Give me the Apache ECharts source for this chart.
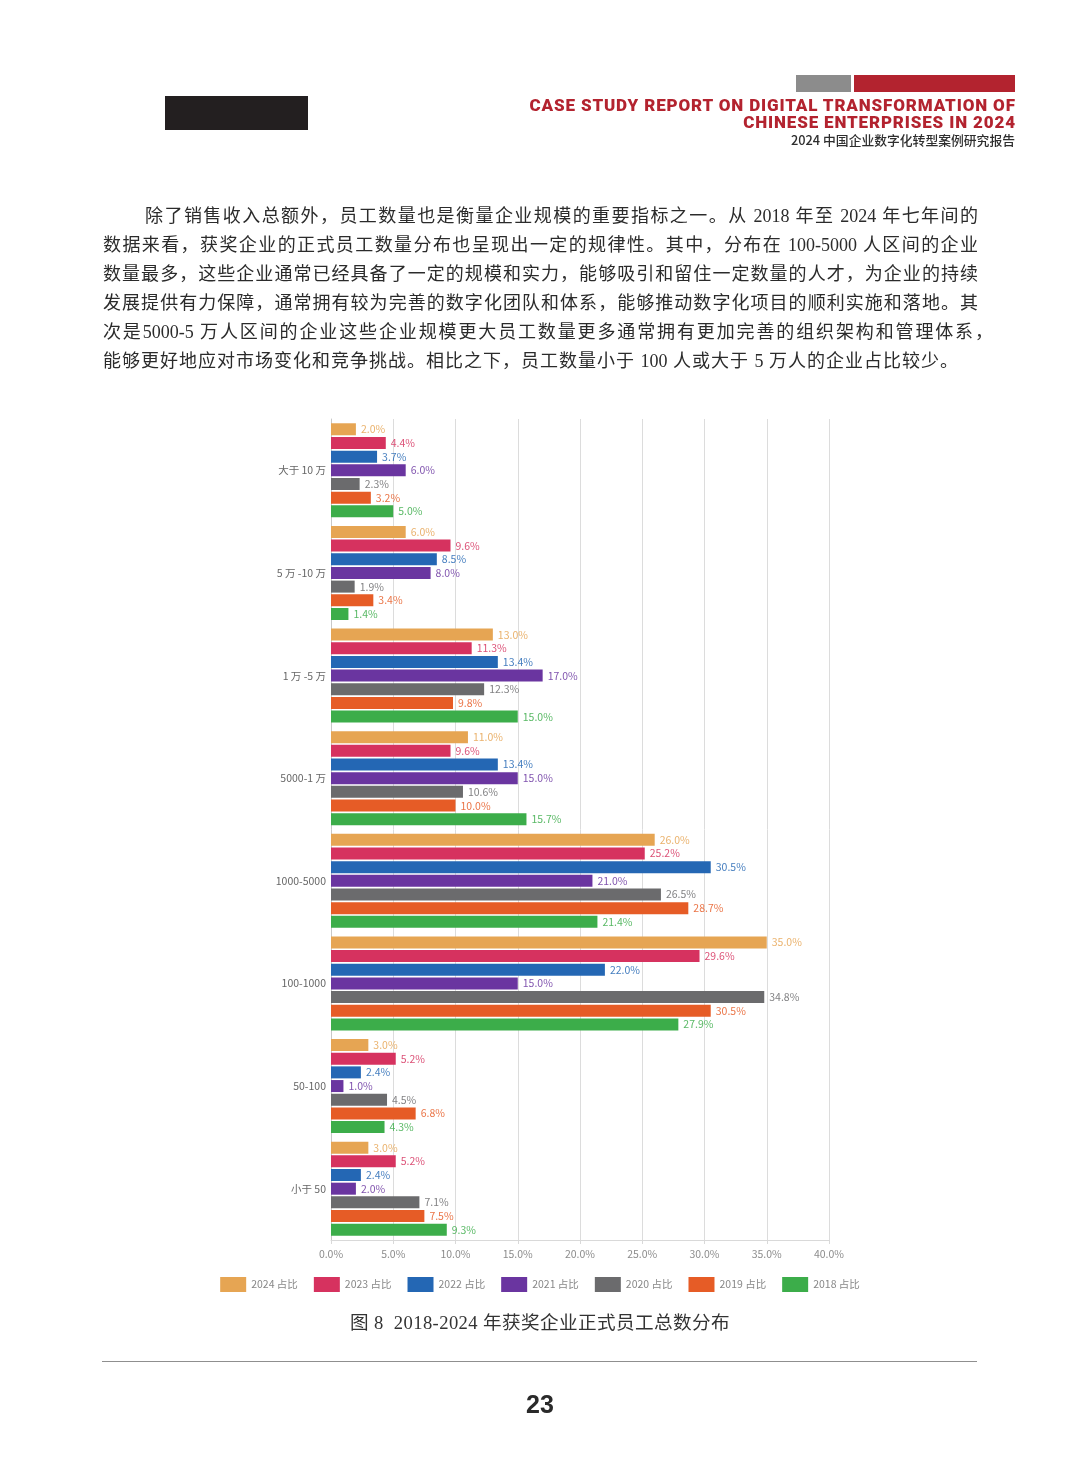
<!DOCTYPE html>
<html>
<head>
<meta charset="utf-8">
<script src="https://cdn.jsdelivr.net/npm/echarts@6/dist/echarts.min.js"></script>
<style>
  html, body { margin:0; padding:0; background:#fff; }
  body { width:1080px; height:1466px; position:relative; overflow:hidden; }
  #chart { position:absolute; left:0; top:0; width:1080px; height:1466px; }
  .abs { position:absolute; }
  .hd { position:absolute; right:65px; font-family:Roboto,'Liberation Sans',sans-serif; font-weight:900; font-size:17px; letter-spacing:0.85px; color:#b3232f; line-height:18px; white-space:nowrap; text-align:right; }
  .para { position:absolute; left:103px; width:875px; font-family:"Liberation Serif","Noto Sans CJK SC",serif; font-size:18px; color:#2b2b2b; line-height:29px; text-align:justify; text-align-last:justify; white-space:nowrap; }
</style>
</head>
<body>
<div id="chart"></div>

<div class="abs" style="left:165px;top:96px;width:143px;height:34px;background:#231f20;"></div>
<div class="abs" style="left:796px;top:75px;width:55px;height:17px;background:#8c8c8c;"></div>
<div class="abs" style="left:854px;top:75px;width:161px;height:17px;background:#b3232f;"></div>
<div class="hd" style="top:96px;margin-right:-0.85px;">CASE STUDY REPORT ON DIGITAL TRANSFORMATION OF</div>
<div class="hd" style="top:113px;margin-right:-0.85px;">CHINESE ENTERPRISES IN 2024</div>
<div class="abs" style="right:65px;top:132px;font-family:'Noto Sans CJK SC',sans-serif;font-weight:500;font-size:12.8px;color:#2e2e2e;line-height:16px;white-space:nowrap;text-align:right;">2024 中国企业数字化转型案例研究报告</div>

<div class="para" style="top:202px;text-indent:42px;">除了销售收入总额外，员工数量也是衡量企业规模的重要指标之一。从 2018 年至 2024 年七年间的</div>
<div class="para" style="top:231px;">数据来看，获奖企业的正式员工数量分布也呈现出一定的规律性。其中，分布在 100-5000 人区间的企业</div>
<div class="para" style="top:260px;">数量最多，这些企业通常已经具备了一定的规模和实力，能够吸引和留住一定数量的人才，为企业的持续</div>
<div class="para" style="top:289px;">发展提供有力保障，通常拥有较为完善的数字化团队和体系，能够推动数字化项目的顺利实施和落地。其</div>
<div class="para" style="top:318px;width:890px;">次是5000-5 万人区间的企业这些企业规模更大员工数量更多通常拥有更加完善的组织架构和管理体系，</div>
<div class="para" style="top:347px;width:855px;">能够更好地应对市场变化和竞争挑战。相比之下，员工数量小于 100 人或大于 5 万人的企业占比较少。</div>

<div class="abs" style="left:0;width:1080px;top:1311px;text-align:center;font-family:'Liberation Serif','Noto Sans CJK SC',serif;font-size:18.6px;letter-spacing:0.4px;color:#333;line-height:24px;">图 8&nbsp; 2018-2024 年获奖企业正式员工总数分布</div>
<div class="abs" style="left:102px;top:1361px;width:875px;height:0;border-top:1.5px solid #8f8f8f;"></div>
<div class="abs" style="left:0;width:1080px;top:1390px;text-align:center;font-family:'Liberation Sans Narrow','Liberation Sans',sans-serif;font-weight:bold;font-size:25px;color:#2a2a2a;line-height:28px;">23</div>

<script>
const categories = ['大于 10 万', '5 万 -10 万', '1 万 -5 万', '5000-1 万', '1000-5000', '100-1000', '50-100', '小于 50'];
const seriesNames = ['2024 占比', '2023 占比', '2022 占比', '2021 占比', '2020 占比', '2019 占比', '2018 占比'];
const seriesColors = ['#e6a553', '#d6325f', '#2467b4', '#6a35a0', '#6b6b6d', '#e65c26', '#3cad4a'];
const xTicks = [0, 5, 10, 15, 20, 25, 30, 35, 40];

const v2024 = [2.0, 6.0, 13.0, 11.0, 26.0, 35.0, 3.0, 3.0];
const v2023 = [4.4, 9.6, 11.3, 9.6, 25.2, 29.6, 5.2, 5.2];
const v2022 = [3.7, 8.5, 13.4, 13.4, 30.5, 22.0, 2.4, 2.4];
const v2021 = [6.0, 8.0, 17.0, 15.0, 21.0, 15.0, 1.0, 2.0];
const v2020 = [2.3, 1.9, 12.3, 10.6, 26.5, 34.8, 4.5, 7.1];
const v2019 = [3.2, 3.4, 9.8, 10.0, 28.7, 30.5, 6.8, 7.5];
const v2018 = [5.0, 1.4, 15.0, 15.7, 21.4, 27.9, 4.3, 9.3];
const seriesValues = [v2024, v2023, v2022, v2021, v2020, v2019, v2018];

const chart = echarts.init(document.getElementById('chart'), null, { renderer: 'canvas' });
const labelFont = "'Noto Sans CJK SC', 'Open Sans', sans-serif";

const series = seriesNames.map((name, i) => ({
  name: name,
  type: 'bar',
  data: seriesValues[i],
  barWidth: 12,
  barGap: '14%',
  itemStyle: { color: seriesColors[i] },
  label: {
    show: true,
    position: 'right',
    distance: 5,
    color: seriesColors[i],
    opacity: 0.85,
    fontSize: 10.5,
    fontFamily: labelFont,
    formatter: p => p.value.toFixed(1) + '%'
  }
}));

chart.setOption({
  animation: false,
  backgroundColor: 'transparent',
  grid: { left: 331, top: 419, width: 498, height: 821, containLabel: false },
  xAxis: {
    type: 'value',
    min: xTicks[0],
    max: xTicks[xTicks.length - 1],
    interval: xTicks[1] - xTicks[0],
    axisLine: { show: true, lineStyle: { color: '#d9d9d9' } },
    axisTick: { show: true, length: 4, lineStyle: { color: '#d9d9d9' } },
    splitLine: { show: true, lineStyle: { color: '#dcdcdc', width: 1 } },
    axisLabel: { color: '#8c8c8c', fontSize: 10.5, fontFamily: labelFont, margin: 9,
      formatter: v => v.toFixed(1) + '%' }
  },
  yAxis: {
    type: 'category',
    data: categories,
    inverse: true,
    axisLine: { show: true, lineStyle: { color: '#c8c8c8' } },
    axisTick: { show: false },
    axisLabel: { color: '#666', fontSize: 10.5, fontFamily: labelFont, margin: 5 }
  },
  legend: {
    data: seriesNames,
    top: 1272,
    left: 'center',
    itemWidth: 26,
    itemHeight: 15,
    itemGap: 16,
    icon: 'rect',
    textStyle: { color: '#888', fontSize: 10.5, fontFamily: labelFont }
  },
  series: series
});
</script>
</body>
</html>
